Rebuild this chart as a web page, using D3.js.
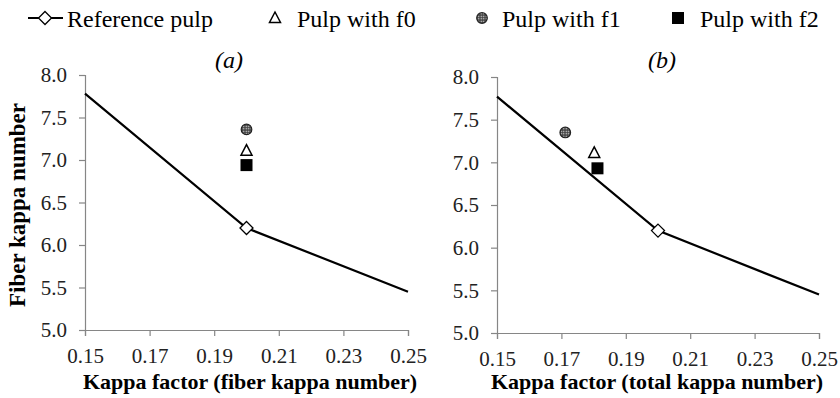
<!DOCTYPE html>
<html>
<head>
<meta charset="utf-8">
<script src="https://cdn.jsdelivr.net/npm/d3@7"></script>
<style>
body { margin: 0; background: #fff; }
text { font-family: "Liberation Serif", "DejaVu Serif", serif; }
</style>
</head>
<body>
<div id="chart"></div>
<script>
var width = 840,
height = 398;

// reference pulp line (same in both panels)
var refX = [0.15, 0.20, 0.25];
var refA = [7.78, 6.20, 5.45];
var refB = [7.77, 6.20, 5.45];

// pulps with f0 / f1 / f2
var seriesNames = ["Pulp with f0", "Pulp with f1", "Pulp with f2"];
var fA_x = [0.20, 0.20, 0.20];
var fA_y = [7.11, 7.36, 6.94];
var fB_x = [0.1802, 0.1712, 0.1812];
var fB_y = [7.11, 7.35, 6.93];

var xTicks = [0.15, 0.17, 0.19, 0.21, 0.23, 0.25];
var yTicks = [5.0, 5.5, 6.0, 6.5, 7.0, 7.5, 8.0];

var panels = [
	{ title: "(a)", xlabel: "Kappa factor (fiber kappa number)", ref: refA, fx: fA_x, fy: fA_y,
	  x0: 85, x1: 408, y0: 330, y1: 75, titleX: 229, labelX: 250 },
	{ title: "(b)", xlabel: "Kappa factor (total kappa number)", ref: refB, fx: fB_x, fy: fB_y,
	  x0: 497, x1: 819, y0: 333, y1: 77, titleX: 662, labelX: 657 }
];

var svg = d3.select("#chart")
.append("svg")
.attr("width", width)
.attr("height", height);

// dotted fill for the f1 circle
var pat = svg.append("defs").append("pattern")
.attr("id", "dots")
.attr("patternUnits", "userSpaceOnUse")
.attr("width", 2.5)
.attr("height", 2.5);
pat.append("rect").attr("width", 2.5).attr("height", 2.5).attr("fill", "#444");
pat.append("circle").attr("cx", 1.25).attr("cy", 1.25).attr("r", 0.7).attr("fill", "#eee");

function drawMarker(g, kind, x, y) {
	if (kind == "diamond") {
		g.append("path")
		.attr("d", "M0,-6.5L6.5,0L0,6.5L-6.5,0Z")
		.attr("transform", "translate(" + x + "," + y + ")")
		.attr("fill", "#fff").attr("stroke", "#000").attr("stroke-width", 1.3);
	} else if (kind == "triangle") {
		g.append("path")
		.attr("d", "M0,-6L5.5,4.5L-5.5,4.5Z")
		.attr("transform", "translate(" + x + "," + y + ")")
		.attr("fill", "#fff").attr("stroke", "#000").attr("stroke-width", 1.5);
	} else if (kind == "circle") {
		g.append("circle")
		.attr("cx", x).attr("cy", y).attr("r", 5.3)
		.attr("fill", "url(#dots)").attr("stroke", "#222").attr("stroke-width", 1.2);
	} else {
		g.append("rect")
		.attr("x", x - 6).attr("y", y - 6).attr("width", 12).attr("height", 12)
		.attr("fill", "#000");
	}
}

var kinds = ["triangle", "circle", "square"];

panels.forEach(function(p) {
	var x = d3.scaleLinear().domain([0.15, 0.25]).range([p.x0, p.x1]);
	var y = d3.scaleLinear().domain([5, 8]).range([p.y0, p.y1]);
	var g = svg.append("g");

	var xAxis = g.append("g")
	.attr("transform", "translate(0," + p.y0 + ")")
	.call(d3.axisBottom(x).tickValues(xTicks).tickFormat(d3.format(".2f")).tickSizeOuter(0).tickSize(6).tickPadding(12));
	var yAxis = g.append("g")
	.attr("transform", "translate(" + p.x0 + ",0)")
	.call(d3.axisLeft(y).tickValues(yTicks).tickFormat(d3.format(".1f")).tickSizeOuter(0).tickSize(6).tickPadding(12));

	[xAxis, yAxis].forEach(function(a) {
		a.attr("font-family", "'Liberation Serif', serif");
		a.selectAll("path, line").attr("stroke", "#868686").attr("stroke-width", 1.2);
		a.selectAll("text")
		.attr("fill", "#222")
		.style("font-family", "'Liberation Serif', serif")
		.style("font-size", "21px");
	});

	g.append("path")
	.datum(refX.map(function(d, i) { return [d, p.ref[i]]; }))
	.attr("fill", "none")
	.attr("stroke", "#000")
	.attr("stroke-width", 2.2)
	.attr("d", d3.line().x(function(d) { return x(d[0]); }).y(function(d) { return y(d[1]); }));

	drawMarker(g, "diamond", x(refX[1]), y(p.ref[1]));

	p.fx.forEach(function(v, i) {
		drawMarker(g, kinds[i], x(v), y(p.fy[i]));
	});

	g.append("text")
	.text(p.title)
	.attr("x", p.titleX)
	.attr("y", 68)
	.attr("text-anchor", "middle")
	.style("font-style", "italic")
	.style("font-size", "24px");

	g.append("text")
	.text(p.xlabel)
	.attr("x", p.labelX)
	.attr("y", 389)
	.attr("text-anchor", "middle")
	.style("font-weight", "bold")
	.style("font-size", "22px");
});

svg.append("text")
.text("Fiber kappa number")
.attr("transform", "translate(25,205) rotate(-90)")
.attr("text-anchor", "middle")
.style("font-weight", "bold")
.style("font-size", "23px");

// legend
var legend = svg.append("g");
legend.append("line")
.attr("x1", 28).attr("x2", 63).attr("y1", 18).attr("y2", 18)
.attr("stroke", "#000").attr("stroke-width", 2);
drawMarker(legend, "diamond", 45, 18);
legend.append("text").text("Reference pulp")
.attr("x", 67).attr("y", 27).style("font-size", "24px");

var legX = [275, 482, 678];
var legTextX = [297, 502, 700];
seriesNames.forEach(function(name, i) {
	drawMarker(legend, kinds[i], legX[i], 18);
	legend.append("text").text(name)
	.attr("x", legTextX[i]).attr("y", 27).style("font-size", "24px");
});
</script>
</body>
</html>
